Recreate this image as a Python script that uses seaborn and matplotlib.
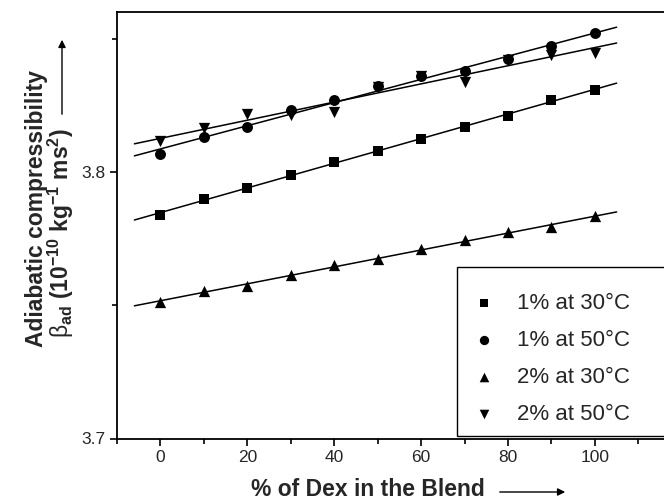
import numpy as np
import pandas as pd
import matplotlib
matplotlib.use("Agg")
import matplotlib.pyplot as plt
from matplotlib.patches import Rectangle
import seaborn as sns

# ---- data ----
dex_pct = [0, 10, 20, 30, 40, 50, 60, 70, 80, 90, 100]
b1_30 = [3.7840, 3.7898, 3.7940, 3.7990, 3.8037, 3.8080, 3.8122, 3.8170, 3.8209, 3.8271, 3.8309]
b1_50 = [3.8068, 3.8130, 3.8168, 3.8231, 3.8269, 3.8321, 3.8360, 3.8380, 3.8422, 3.8472, 3.8521]
b2_30 = [3.7513, 3.7552, 3.7573, 3.7613, 3.7651, 3.7672, 3.7712, 3.7744, 3.7774, 3.7792, 3.7834]
b2_50 = [3.8116, 3.8166, 3.8216, 3.8212, 3.8225, 3.8320, 3.8360, 3.8338, 3.8420, 3.8438, 3.8448]
labels = ["1% at 30°C", "1% at 50°C", "2% at 30°C", "2% at 50°C"]
y_ticks = [3.7, 3.8]
x_ticks = [0, 20, 40, 60, 80, 100]

sns.set_theme(style="ticks")
plt.rcParams["font.family"] = ["Liberation Sans", "DejaVu Sans"]
plt.rcParams["mathtext.fontset"] = "custom"
plt.rcParams["mathtext.rm"] = "Liberation Sans"
plt.rcParams["mathtext.bf"] = "Liberation Sans:bold"
plt.rcParams["mathtext.it"] = "Liberation Sans:italic"

fig = plt.figure(figsize=(6.64, 5.0), dpi=100)
ax = fig.add_axes([117 / 664, 1 - 438.5 / 500, (664 - 117) / 664, (438.5 - 12) / 500])

series = [b1_30, b1_50, b2_30, b2_50]
markers = ["s", "o", "^", "v"]
sizes = [46, 62, 66, 66]
fit_x = np.array([-6, 105])
for vals, m, s, lab in zip(series, markers, sizes, labels):
    df = pd.DataFrame({"x": dex_pct, "y": vals})
    sns.scatterplot(data=df, x="x", y="y", marker=m, s=s, color="black",
                    edgecolor="black", linewidth=0, ax=ax, label=lab, zorder=3)
    k, b = np.polyfit(dex_pct, vals, 1)
    sns.lineplot(x=fit_x, y=k * fit_x + b, color="black", lw=1.1, ax=ax,
                 legend=False, zorder=2)

ax.set_xlim(-10, 115.9)
ax.set_ylim(3.7, 3.86)
ax.set_xticks(x_ticks)
ax.set_xticks(np.arange(-10, 116, 20), minor=True)
ax.set_yticks(y_ticks)
ax.set_yticks([3.75, 3.85], minor=True)
ax.set_yticklabels(["3.7", "3.8"])
ax.tick_params(which="major", direction="out", length=5, width=1.2, labelsize=12.5, color="black", pad=3)
ax.tick_params(which="minor", direction="out", length=3.5, width=1.2, color="black")
for side in ["left", "bottom", "top"]:
    ax.spines[side].set_linewidth(1.3)
    ax.spines[side].set_color("black")
ax.spines["right"].set_visible(False)
ax.set_xlabel("")
ax.set_ylabel("")

# legend frame drawn separately (box runs off the right edge, as in the reference)
ax.add_patch(Rectangle((0.6216, 0.006), 0.5, 0.396, transform=ax.transAxes,
                       facecolor="white", edgecolor="black", lw=1.0, zorder=4,
                       clip_on=False))
leg = ax.legend(loc="lower left", bbox_to_anchor=(0.6216, -0.0104, 0.5, 0.396),
                mode="expand", frameon=False,
                fontsize=16, handlelength=0.8, handletextpad=1.09, labelspacing=0.72,
                borderpad=0.8, borderaxespad=0, markerscale=0.85)
leg.set_zorder(5)

# axis labels
fig.text(368 / 664, 1 - 490 / 500, "% of Dex in the Blend", ha="center", va="center",
         fontsize=16.5, fontweight="bold")
ax.annotate("", xy=(568 / 664, 1 - 492 / 500), xytext=(497 / 664, 1 - 492 / 500),
            xycoords="figure fraction", textcoords="figure fraction",
            arrowprops=dict(arrowstyle="-|>", lw=1.0, color="black", mutation_scale=11))
fig.text(37 / 664, 1 - 209 / 500, "Adiabatic compressibility", rotation=90,
         ha="center", va="center", fontsize=16.5, fontweight="bold")
fig.text(61 / 664, 1 - 233 / 500,
         r"β$_{\mathbf{ad}}$ $\mathbf{(10^{-10}\ kg^{-1}\ ms^{2})}$",
         rotation=90, ha="center", va="center", fontsize=16.5)
ax.annotate("", xy=(62 / 664, 1 - 37 / 500), xytext=(62 / 664, 1 - 117 / 500),
            xycoords="figure fraction", textcoords="figure fraction",
            arrowprops=dict(arrowstyle="-|>", lw=1.0, color="black", mutation_scale=11))

fig.savefig("out.png", dpi=100)
